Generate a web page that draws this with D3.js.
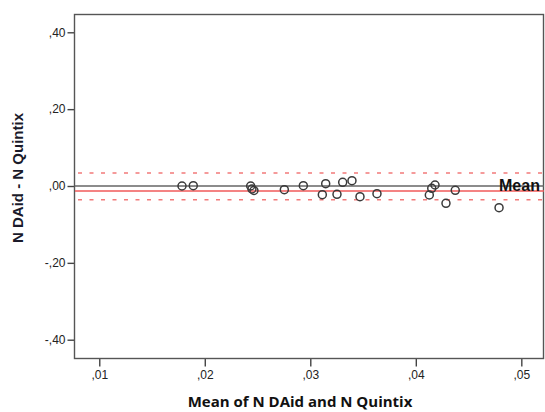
<!DOCTYPE html>
<html lang="en">
<head>
    <meta charset="utf-8">
    <style>
        html, body {
            margin: 0;
            padding: 0;
            background: #ffffff;
        }
        svg {
            display: block;
        }
        .tick text {
            font-family: "Liberation Sans", Arial, sans-serif;
            font-size: 12px;
            fill: #222;
        }
    </style>
</head>
<body>

<script src="https://cdn.jsdelivr.net/npm/d3@7/dist/d3.min.js"></script>
<script>
// mean of the two methods (x) and their difference (y)
var meanValues = [0.01784, 0.01891, 0.02435, 0.02447, 0.02466, 0.02754, 0.02934, 0.03114,
                  0.03146, 0.03253, 0.03307, 0.03395, 0.03471, 0.03632, 0.04128, 0.04151,
                  0.04182, 0.04286, 0.04374, 0.04789];
var diffValues = [0.0000, 0.0008, 0.0000, -0.0078, -0.0117, -0.0096, 0.0008, -0.0226,
                  0.0060, -0.0216, 0.0096, 0.0138, -0.0278, -0.0200, -0.0234, -0.0060,
                  0.0026, -0.0450, -0.0112, -0.0565];

var xTicks = [0.01, 0.02, 0.03, 0.04, 0.05];
var yTicks = [-0.4, -0.2, 0, 0.2, 0.4];

// reference lines: mean difference and limits of agreement
var meanDiff = -0.013;
var limits = [0.0338, -0.0357];

(function() {
    var width = 545, height = 412;
    var margin = {left: 75, top: 14, right: 1, bottom: 54};

    var svg = d3.select('body')
        .append('svg')
        .attr('width', width)
        .attr('height', height);

    var x = d3.scaleLinear()
        .domain([0.00770, 0.05215])
        .range([margin.left, width - margin.right]);
    var y = d3.scaleLinear()
        .domain([-0.4476, 0.4476])
        .range([height - margin.bottom, margin.top]);

    // comma as decimal mark, no leading zero: ,40 -,20
    function fmt(d) {
        var s = d3.format('.2f')(Math.abs(d)).replace('0.', ',');
        return (d < 0 ? '-' : '') + s;
    }

    var yAxis = svg.append('g')
        .attr('transform', 'translate(' + (margin.left - 0.5) + ',0)')
        .call(d3.axisLeft(y).tickValues(yTicks).tickFormat(fmt).tickSize(7).tickPadding(2));
    var xAxis = svg.append('g')
        .attr('transform', 'translate(0,' + (height - margin.bottom + 0.5) + ')')
        .call(d3.axisBottom(x).tickValues(xTicks).tickFormat(function (d) { return d3.format('.2f')(d).replace('0.', ','); })
            .tickSize(8).tickPadding(4));
    [xAxis, yAxis].forEach(function (a) {
        a.select('.domain').remove();
        a.selectAll('.tick line').attr('stroke', '#444').attr('stroke-width', 1.4);
    });

    // plot frame
    svg.append('rect')
        .attr('x', margin.left - 0.5)
        .attr('y', margin.top + 0.5)
        .attr('width', width - margin.right - margin.left)
        .attr('height', height - margin.bottom - margin.top)
        .attr('fill', 'none')
        .attr('stroke', '#555')
        .attr('stroke-width', 1.4);

    // zero line
    svg.append('line')
        .attr('x1', margin.left).attr('x2', width - margin.right)
        .attr('y1', y(0)).attr('y2', y(0))
        .attr('stroke', '#666').attr('stroke-width', 1.4);

    // limits
    svg.selectAll('line.limit')
        .data(limits)
        .enter()
        .append('line')
        .attr('class', 'limit')
        .attr('x1', margin.left + 3).attr('x2', width - margin.right)
        .attr('y1', function (d) { return y(d); })
        .attr('y2', function (d) { return y(d); })
        .attr('stroke', '#f27a7a')
        .attr('stroke-width', 1.5)
        .attr('stroke-dasharray', '4,7.5');

    // mean difference
    svg.append('line')
        .attr('x1', margin.left).attr('x2', width - margin.right)
        .attr('y1', y(meanDiff)).attr('y2', y(meanDiff))
        .attr('stroke', '#f05a5a').attr('stroke-width', 1.3);

    svg.selectAll('circle')
        .data(meanValues)
        .enter()
        .append('circle')
        .attr('cx', function (d) { return x(d); })
        .attr('cy', function (d, i) { return y(diffValues[i]); })
        .attr('r', 4)
        .attr('fill', 'none')
        .attr('stroke', '#3a3a3a')
        .attr('stroke-width', 1.5);

    svg.append('text')
        .attr('x', 499)
        .attr('y', y(0) + 5)
        .style('font-family', '"Liberation Sans", Arial, sans-serif')
        .style('font-weight', 'bold')
        .style('font-size', '16px')
        .attr('fill', '#111')
        .text('Mean');

    svg.append('text')
        .attr('transform', 'translate(23,178) rotate(-90)')
        .attr('text-anchor', 'middle')
        .style('font-family', '"Liberation Sans", Arial, sans-serif')
        .style('font-weight', 'bold')
        .style('font-size', '15px')
        .attr('fill', '#1a1a2a')
        .text('N DAid - N Quintix');

    svg.append('text')
        .attr('x', 300)
        .attr('y', 407)
        .attr('text-anchor', 'middle')
        .style('font-family', '"Open Sans", sans-serif')
        .style('font-weight', 'bold')
        .style('font-size', '15px')
        .attr('fill', '#111')
        .text('Mean of N DAid and N Quintix');
})();
</script>

</body>
</html>
